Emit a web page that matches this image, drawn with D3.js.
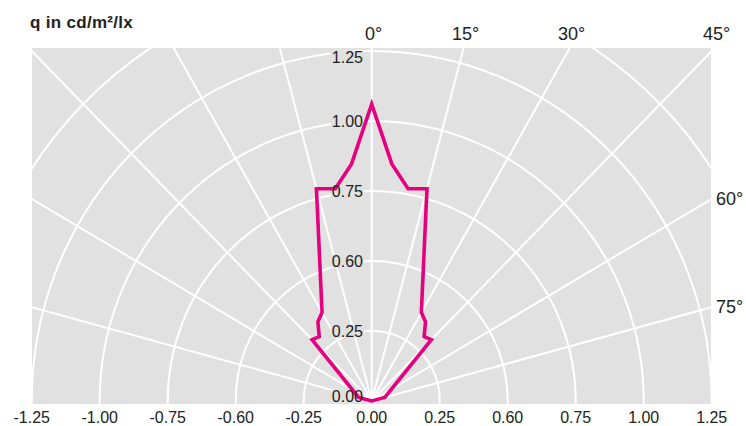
<!DOCTYPE html>
<html><head><meta charset="utf-8">
<script src="https://cdn.jsdelivr.net/npm/d3@7"></script>
<style>
body{margin:0;background:#fff}
svg{display:block;font-family:"Liberation Sans",Arial,sans-serif}
</style>
</head><body>
<svg id="chart" width="746" height="426"></svg>
<script>
// ---- data ----
const gammaDeg = [-90, -75, -45, -40, -35, -30, -15, -10, -5, 0, 5, 10, 15, 30, 35, 40, 45, 75, 90];
const qValues  = [0, 0.05, 0.31, 0.30, 0.345, 0.365, 0.785, 0.77, 0.85, 1.06, 0.85, 0.77, 0.785, 0.365, 0.345, 0.30, 0.31, 0.05, 0];

const gridRadii = [0.25, 0.5, 0.75, 1.0, 1.25, 1.5];
const spokeAngles = [-75, -60, -45, -30, -15, 0, 15, 30, 45, 60, 75];
const topAngleValues = [0, 15, 30, 45];
const topAngleLabels = ["0°", "15°", "30°", "45°"];
const sideAngleValues = [60, 75];
const sideAngleLabels = ["60°", "75°"];
const radialTickValues = [0, 0.25, 0.5, 0.75, 1.0, 1.25];
const radialTickLabels = ["0.00", "0.25", "0.60", "0.75", "1.00", "1.25"];
const xTickValues = [-1.25, -1.0, -0.75, -0.5, -0.25, 0, 0.25, 0.5, 0.75, 1.0, 1.25];
const xTickLabels = ["-1.25", "-1.00", "-0.75", "-0.60", "-0.25", "0.00", "0.25", "0.60", "0.75", "1.00", "1.25"];
const titleText = "q in cd/m²/lx";

// ---- layout ----
const cx = 371.7, cy = 401;
const plot = {x0: 32, x1: 711, y0: 48, y1: 404};
const textColor = "#222";

const svg = d3.select("#chart");
const x = d3.scaleLinear().domain([-1.25, 1.25]).range([cx - 340, cx + 340]);
const y = d3.scaleLinear().domain([0, 1.25]).range([cy, cy - 350]);
const rad = d => d * Math.PI / 180;

svg.append("defs").append("clipPath").attr("id", "plotclip")
  .append("rect").attr("x", plot.x0).attr("y", plot.y0)
  .attr("width", plot.x1 - plot.x0).attr("height", plot.y1 - plot.y0);

svg.append("rect").attr("x", plot.x0).attr("y", plot.y0)
  .attr("width", plot.x1 - plot.x0).attr("height", plot.y1 - plot.y0)
  .attr("fill", "#e1e1e1");

const grid = svg.append("g").attr("clip-path", "url(#plotclip)");
grid.selectAll("ellipse").data(gridRadii).join("ellipse")
  .attr("cx", x(0)).attr("cy", y(0))
  .attr("rx", d => x(d) - x(0)).attr("ry", d => y(0) - y(d))
  .attr("fill", "none").attr("stroke", "#fff").attr("stroke-width", 2);
grid.selectAll("line").data(spokeAngles).join("line")
  .attr("x1", x(0)).attr("y1", y(0))
  .attr("x2", d => x(3 * Math.sin(rad(d)))).attr("y2", d => y(3 * Math.cos(rad(d))))
  .attr("stroke", "#fff").attr("stroke-width", 2);

// radial tick labels (with background patches)
const yLab = radialTickValues.map((v, i) => ({v, t: radialTickLabels[i],
  cyv: Math.max(57.5, Math.min(396, y(v)))}));
const yLabelG = svg.append("g");
const tmp = yLabelG.selectAll("text").data(yLab).join("text")
  .attr("x", 363).attr("y", d => d.cyv + 5.7)
  .attr("text-anchor", "end").attr("font-size", 16).attr("fill", textColor)
  .text(d => d.t);
const boxes = [];
tmp.each(function(){ boxes.push(this.getBBox()); });
const bgG = svg.insert("g", () => yLabelG.node());
bgG.selectAll("rect").data(boxes).join("rect")
  .attr("x", b => b.x - 1).attr("y", b => b.y + 2)
  .attr("width", b => b.width + 2).attr("height", b => b.height - 4)
  .attr("fill", "#e1e1e1");
yLabelG.remove();

// curve
const pts = gammaDeg.map((g, i) => ({g, q: qValues[i]}));
const uniquePts = pts.filter((p, i) => !(i === pts.length - 1 && p.q === 0 && pts[0].q === 0));
const line = d3.line()
  .x(d => x(d.q * Math.sin(rad(d.g))))
  .y(d => y(d.q * Math.cos(rad(d.g))))
  .curve(d3.curveLinearClosed);
svg.append("path").datum(uniquePts).attr("d", line)
  .attr("fill", "none").attr("stroke", "#e6007e").attr("stroke-width", 3.6)
  .attr("stroke-linejoin", "miter").attr("stroke-miterlimit", 10);

// radial labels on top
svg.append("g").selectAll("text").data(yLab).join("text")
  .attr("x", 363).attr("y", d => d.cyv + 5.7)
  .attr("text-anchor", "end").attr("font-size", 16).attr("fill", textColor)
  .text(d => d.t);

// x tick labels
svg.append("g").selectAll("text").data(xTickValues).join("text")
  .attr("x", d => x(d)).attr("y", 422.5)
  .attr("text-anchor", "middle").attr("font-size", 16).attr("fill", textColor)
  .text((d, i) => xTickLabels[i]);

// angle labels on top
const topU = y.invert(plot.y0);
svg.append("g").selectAll("text").data(topAngleValues).join("text")
  .attr("x", d => x(topU * Math.tan(rad(d))) + 2).attr("y", 40)
  .attr("text-anchor", "middle").attr("font-size", 18).attr("fill", textColor)
  .text((d, i) => topAngleLabels[i]);

// angle labels on right side
const rightU = x.invert(plot.x1);
svg.append("g").selectAll("text").data(sideAngleValues).join("text")
  .attr("x", 716).attr("y", d => y(rightU / Math.tan(rad(d))) + 5.5)
  .attr("text-anchor", "start").attr("font-size", 18).attr("fill", textColor)
  .text((d, i) => sideAngleLabels[i]);

// title
svg.append("text").attr("x", 30).attr("y", 27.5)
  .attr("font-size", 17).attr("font-weight", "bold").attr("fill", textColor)
  .attr("letter-spacing", 0.3)
  .text(titleText);
</script>
</body></html>
